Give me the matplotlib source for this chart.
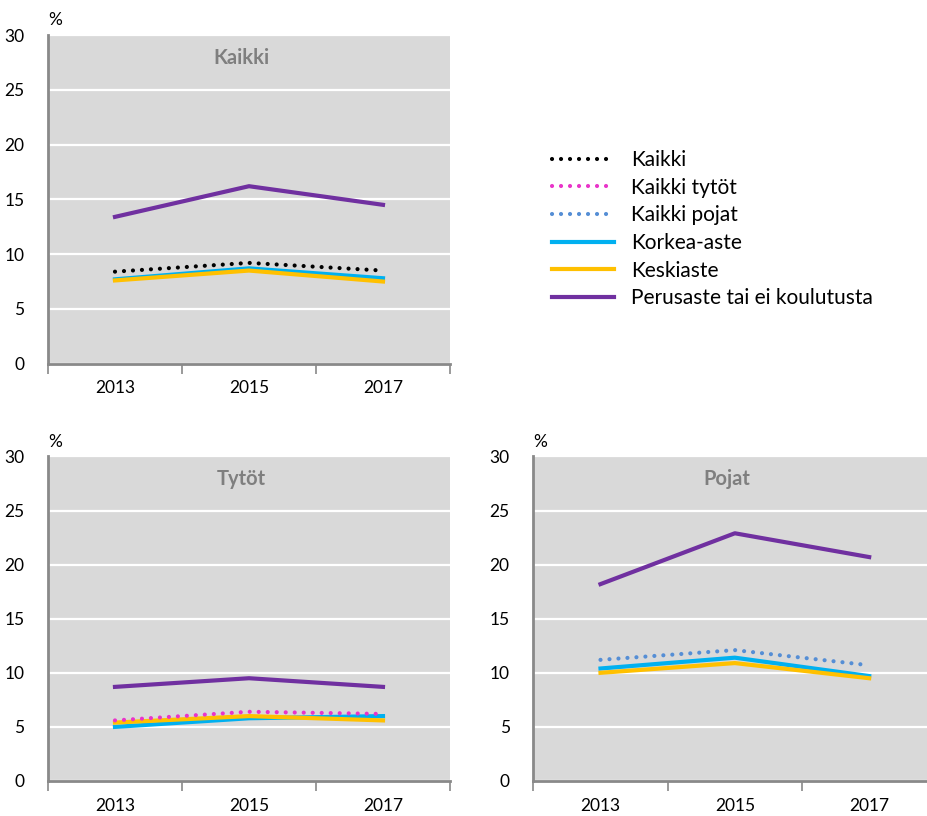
import matplotlib
matplotlib.use("Agg")
import matplotlib.pyplot as plt
from matplotlib.ticker import FixedLocator, NullFormatter, FixedFormatter

plt.rcParams['font.family'] = ['Lato', 'DejaVu Sans']

years = ["2013", "2015", "2017"]

# Kaikki panel
kaikki_all = [8.4, 9.2, 8.5]
kaikki_korkea = [7.7, 8.7, 7.8]
kaikki_keski = [7.6, 8.5, 7.5]
kaikki_perus = [13.4, 16.2, 14.5]

# Tytöt panel
tytot_all = [5.6, 6.4, 6.2]
tytot_korkea = [5.0, 5.8, 6.0]
tytot_keski = [5.4, 6.0, 5.6]
tytot_perus = [8.7, 9.5, 8.7]

# Pojat panel
pojat_all = [11.2, 12.1, 10.7]
pojat_korkea = [10.4, 11.4, 9.7]
pojat_keski = [10.0, 10.9, 9.5]
pojat_perus = [18.2, 22.9, 20.7]

yticks = [0, 5, 10, 15, 20, 25, 30]

C_BLACK = "#000000"
C_PINK = "#E934C9"
C_LBLUE = "#558ED5"
C_BLUE = "#00B0F0"
C_YELLOW = "#FFC000"
C_PURPLE = "#7030A0"
BG = "#D9D9D9"
SPINE = "#898989"

fig = plt.figure(figsize=(9.28, 8.16), dpi=100)
fs = 12.5

def make_ax(rect, title):
    ax = fig.add_axes(rect)
    ax.set_facecolor(BG)
    ax.set_xlim(-0.5, 2.5)
    ax.set_ylim(0, 30)
    ax.set_yticks(yticks)
    ax.yaxis.grid(True, color="white", linewidth=1.6)
    ax.set_axisbelow(True)
    ax.tick_params(axis='y', length=0, pad=17, labelsize=fs)
    ax.xaxis.set_major_locator(FixedLocator([-0.5, 0.5, 1.5, 2.5]))
    ax.xaxis.set_major_formatter(NullFormatter())
    ax.xaxis.set_minor_locator(FixedLocator([0, 1, 2]))
    ax.xaxis.set_minor_formatter(FixedFormatter(years))
    ax.tick_params(axis='x', which='major', length=7, width=1.2, color=SPINE)
    ax.tick_params(axis='x', which='minor', length=0, pad=12, labelsize=fs)
    for s in ['top', 'right']:
        ax.spines[s].set_visible(False)
    for s in ['left', 'bottom']:
        ax.spines[s].set_color(SPINE)
        ax.spines[s].set_linewidth(2)
    ax.text(0.48, 0.93, title, transform=ax.transAxes, ha='center', va='center',
            fontsize=14.5, fontweight='bold', color="#7F7F7F")
    ax.text(0.0, 1.045, "%", transform=ax.transAxes, ha='left', va='center', fontsize=fs)
    return ax

x = list(range(len(years)))
lw = 3.0
dots = (0, (0.01, 2.15))

def draw(ax, korkea, keski, perus, allv, allc, alllab):
    ax.plot(x, korkea, color=C_BLUE, lw=lw, label="Korkea-aste", zorder=3)
    ax.plot(x, keski, color=C_YELLOW, lw=lw, label="Keskiaste", zorder=4)
    ax.plot(x, perus, color=C_PURPLE, lw=lw, label="Perusaste tai ei koulutusta", zorder=5)
    ax.plot(x, allv, color=allc, lw=lw, linestyle=dots, dash_capstyle='round',
            label=alllab, zorder=6)

ax1 = make_ax([0.0517, 0.5543, 0.4332, 0.4028], "Kaikki")
draw(ax1, kaikki_korkea, kaikki_keski, kaikki_perus, kaikki_all, C_BLACK, "Kaikki")

ax2 = make_ax([0.0517, 0.0429, 0.4332, 0.3977], "Tytöt")
draw(ax2, tytot_korkea, tytot_keski, tytot_perus, tytot_all, C_PINK, "Kaikki tytöt")

ax3 = make_ax([0.5747, 0.0429, 0.4343, 0.3977], "Pojat")
draw(ax3, pojat_korkea, pojat_keski, pojat_perus, pojat_all, C_LBLUE, "Kaikki pojat")

handles = {}
for ax in (ax1, ax2, ax3):
    for h, l in zip(*ax.get_legend_handles_labels()):
        handles.setdefault(l, h)
order = ["Kaikki", "Kaikki tytöt", "Kaikki pojat", "Korkea-aste", "Keskiaste",
         "Perusaste tai ei koulutusta"]
leg = fig.legend([handles[o] for o in order], order, loc='upper left',
                 bbox_to_anchor=(0.5855, 0.8265), frameon=False, fontsize=15,
                 handlelength=3.0, handletextpad=0.8, labelspacing=0.37,
                 borderaxespad=0)

fig.savefig("out.png", dpi=100)
